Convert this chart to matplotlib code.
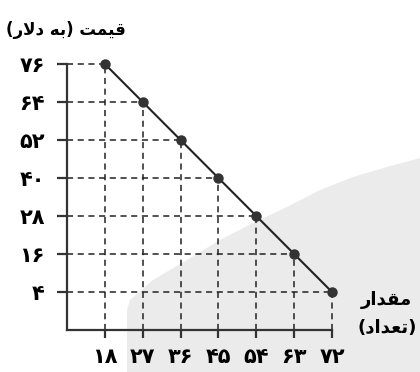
import matplotlib
matplotlib.use("Agg")
import matplotlib.pyplot as plt
from matplotlib.patches import Polygon

# Data
quantity = [18, 27, 36, 45, 54, 63, 72]
price = [76, 64, 52, 40, 28, 16, 4]
x_tick_labels = ["۱۸", "۲۷", "۳۶", "۴۵", "۵۴", "۶۳", "۷۲"]
y_tick_labels = ["۷۶", "۶۴", "۵۲", "۴۰", "۲۸", "۱۶", "۴"]
# Persian labels (pre-shaped presentation forms in visual order)
y_label = "(\uFEAD\uFEFB\uFEA9 \uFEEA\uFE91) \uFE96\uFEE4\uFEF4\uFED7"   # قیمت (به دلار)
x_label_1 = "\uFEAD\uFE8D\uFEAA\uFED8\uFEE3"                           # مقدار
x_label_2 = "(\uFEA9\uFE8D\uFEAA\uFECC\uFE97)"                          # (تعداد)

W, H = 420, 372
fig = plt.figure(figsize=(W / 100, H / 100), dpi=100)
fig.patch.set_facecolor("white")

# grey background shape (page artifact)
pts_px = [(127, 372), (127, 310), (130, 300), (153, 280), (187, 260), (220, 240),
          (253, 223), (287, 207), (320, 190), (353, 177), (387, 167), (420, 158), (420, 372)]
pts = [(x / W, 1 - y / H) for x, y in pts_px]
fig.patches.append(Polygon(pts, closed=True, transform=fig.transFigure,
                           facecolor="#ebebeb", edgecolor="none", zorder=-5))

ax = fig.add_axes([67 / W, 1 - 330 / H, (332 - 67) / W, (330 - 64) / H])
ax.set_zorder(2)
ax.patch.set_alpha(0)
ax.set_xlim(9, 72)
ax.set_ylim(-8, 76)

for xv, yv in zip(quantity, price):
    ax.plot([9, xv], [yv, yv], color="#222222", lw=1.1, ls=(0, (4, 3)), zorder=2, clip_on=False)
    ax.plot([xv, xv], [-8, yv], color="#222222", lw=1.1, ls=(0, (4, 3)), zorder=2, clip_on=False)

ax.plot(quantity, price, color="#222222", lw=1.5, marker="o", ms=6.5,
        mfc="#333333", mec="#333333", zorder=4, clip_on=False)

for s in ["top", "right"]:
    ax.spines[s].set_visible(False)
for s in ["left", "bottom"]:
    ax.spines[s].set_linewidth(1.6)
    ax.spines[s].set_color("#333333")

ax.set_xticks(quantity)
ax.set_xticklabels(x_tick_labels, fontsize=15, fontweight="bold", family=["DejaVu Sans"])
ax.set_yticks(price)
ax.set_yticklabels(y_tick_labels, fontsize=15, fontweight="bold", family=["DejaVu Sans"])
ax.tick_params(axis="x", length=6, width=1.6, color="#333333", pad=6)
ax.tick_params(axis="y", length=7, width=1.6, color="#333333", pad=9)

fig.text(66 / W, 1 - 30 / H, y_label, ha="center", va="center", fontsize=12,
         fontweight="bold", family=["DejaVu Sans"])
fig.text(386 / W, 1 - 300 / H, x_label_1, ha="center", va="center", fontsize=13,
         fontweight="bold", family=["DejaVu Sans"])
fig.text(387 / W, 1 - 328 / H, x_label_2, ha="center", va="center", fontsize=13,
         fontweight="bold", family=["DejaVu Sans"])

fig.savefig("out.png", dpi=100)
